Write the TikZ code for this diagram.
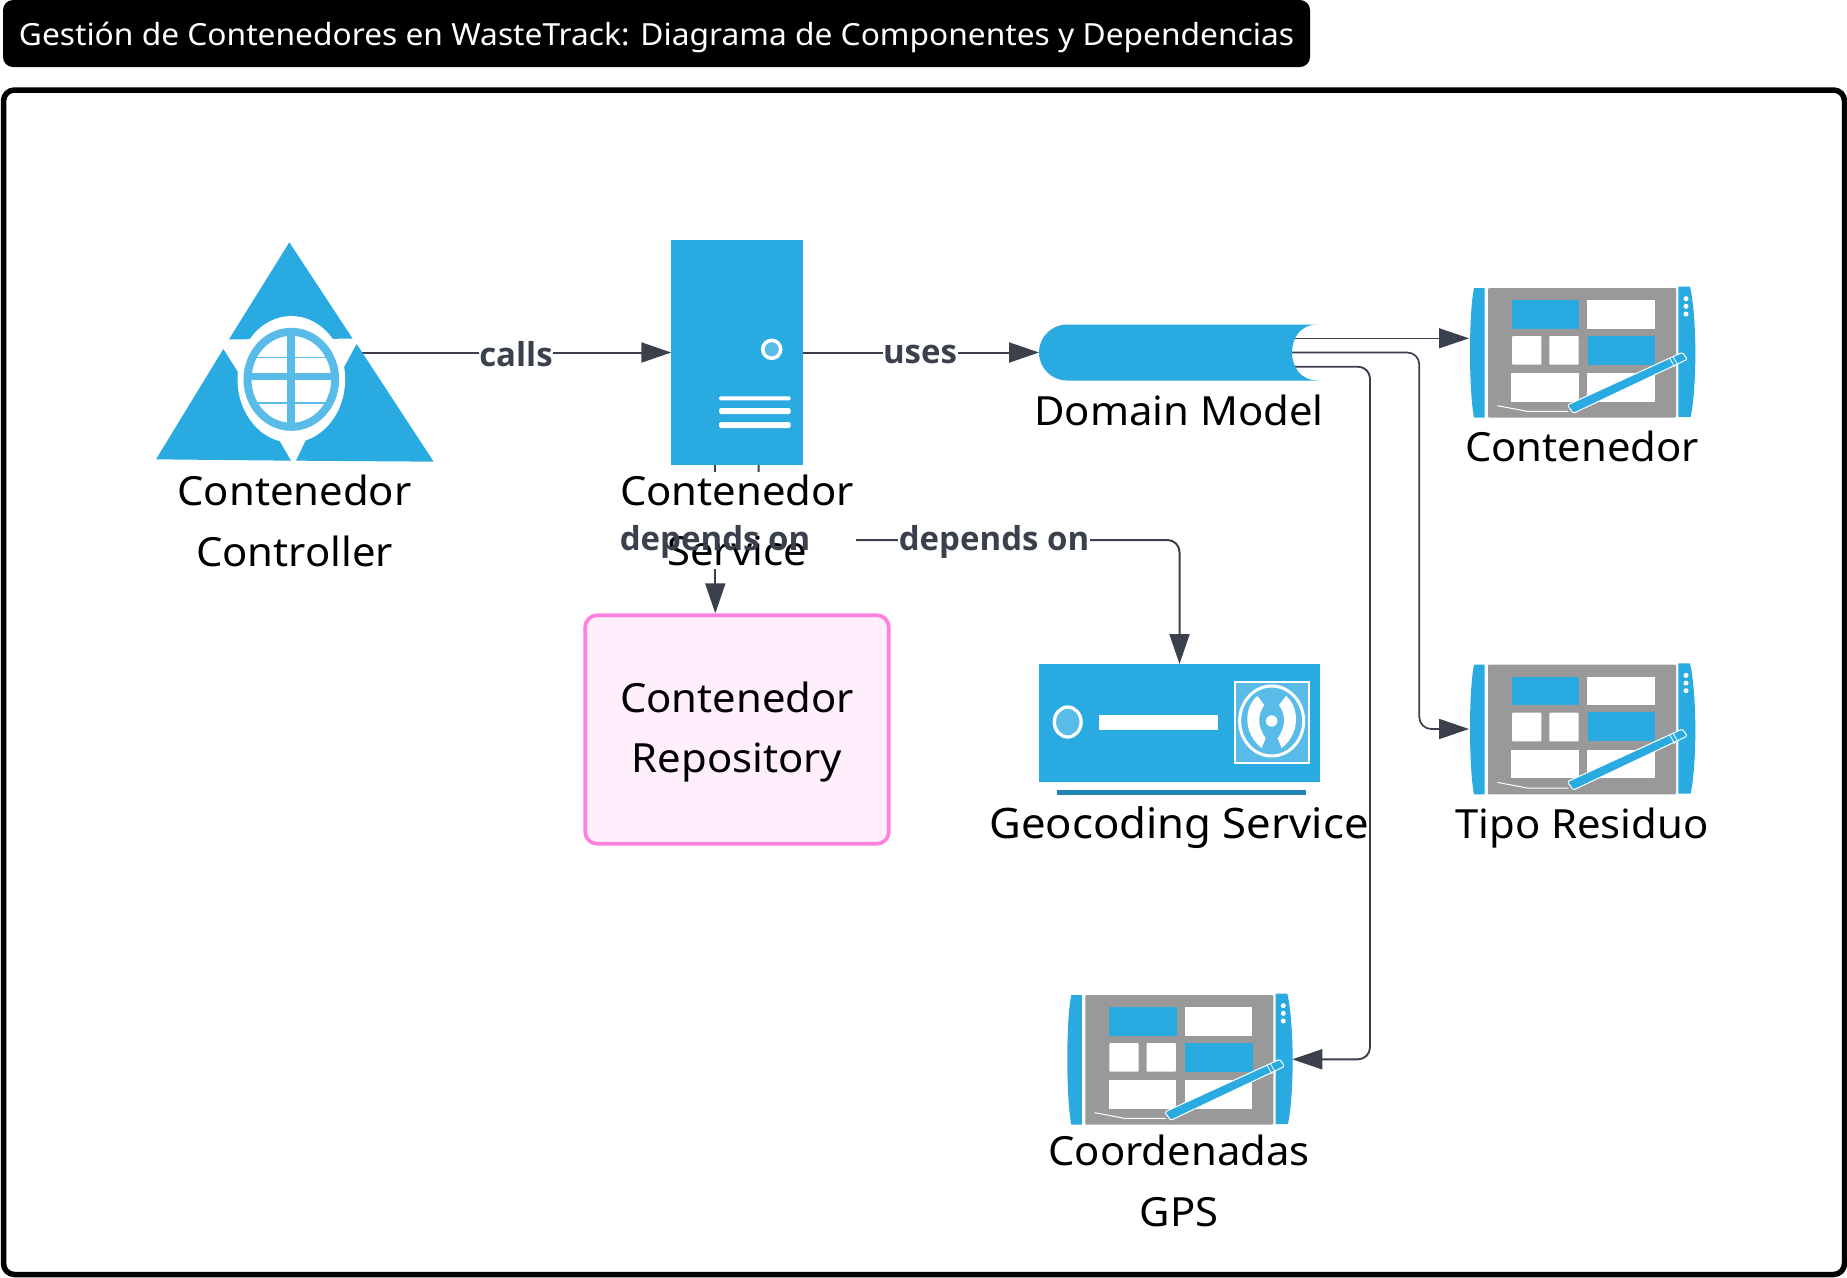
\documentclass[tikz,border=0pt]{standalone}
\usepackage{fontspec}
\usetikzlibrary{arrows.meta}
\setmainfont{Noto Sans}[FakeStretch=1.04]
\newfontfamily\efont{Open Sans}
\definecolor{mainb}{HTML}{29ABE2}
\definecolor{lightb}{HTML}{59BCE8}
\definecolor{darkb}{HTML}{2186B4}
\definecolor{edgec}{HTML}{3A414D}
\definecolor{greyc}{HTML}{999999}
\definecolor{repof}{HTML}{FFEEFB}
\definecolor{repos}{HTML}{FF80E0}
\tikzset{
  lbl/.style={font=\fontsize{40.2}{60.5}\selectfont,align=center,text=black,inner sep=0pt},
  elbl/.style={font=\fontsize{33}{38}\efont\bfseries,text=edgec,inner sep=0.5pt},
  conn/.style={draw=edgec,line width=#1,rounded corners=12pt,-{Triangle[length=30pt,width=20pt]}},
  conn/.default=2pt,
  iconbox/.style={inner sep=0pt,outer sep=0pt,draw=none},
  tablet/.pic={
    \begin{scope}[x=0.33333pt,y=-0.33333pt]
      \fill[mainb] (104,54) -- (72,54) .. controls (56,130) and (56,360) .. (72,443) -- (104,443) -- cycle;
      \fill[mainb] (685,50) -- (720,50) .. controls (741,140) and (741,350) .. (722,441) -- (685,441) -- cycle;
      \fill[white] (708,86) circle (2.5pt) (708,109) circle (2.5pt) (708,132) circle (2.5pt);
      \fill[greyc,rounded corners=1pt] (114,54) rectangle (678,443);
      \fill[mainb] (186,90) rectangle (388,176);
      \fill[white] (412,90) rectangle (615,176);
      \fill[white,rounded corners=1pt] (186,198) rectangle (274,284);
      \fill[white,rounded corners=1pt] (298,198) rectangle (386,284);
      \fill[mainb] (414,197) rectangle (616,284);
      \fill[white] (184,309) rectangle (387,395);
      \fill[white] (412,309) rectangle (615,395);
      \draw[white,line width=1pt] (142,407) -- (232,424) -- (355,424);
      \draw[white,fill=mainb,line width=1pt,rounded corners=1.5pt] (352,405) -- (697,247) -- (712,268) -- (370,430) -- cycle;
      \draw[white,line width=0.8pt] (660,266) -- (674,291) (670,261) -- (684,286);
    \end{scope}
  }
}
\begin{document}
\begin{tikzpicture}[x=1pt,y=-1pt]
\useasboundingbox (0,0) rectangle (1847,1277);
\fill[white] (0,0) rectangle (1847,1277);
% title and frame
\node[fill=black,rounded corners=10pt,inner sep=0pt,minimum width=1307pt,minimum height=67pt,text=white,font=\fontsize{30.5}{36}\selectfont] (title) at (656.5,33.5) {\raisebox{-11.5pt}[20pt][20pt]{Gestión de Contenedores en WasteTrack: Diagrama de Componentes y Dependencias}};
\draw[black,line width=5.5pt,rounded corners=11pt] (3.5,90) rectangle (1844.5,1274.5);
% named icon frames
\coordinate (ctrlout) at (354,352.5);
\node[iconbox,minimum width=131.4pt,minimum height=225pt] (server) at (737,352.5) {};
\node[iconbox,minimum width=279pt,minimum height=56pt] (dm) at (1178.5,352.5) {};
\node[iconbox,draw=repos,fill=repof,line width=3.7pt,rounded corners=12pt,minimum width=303.6pt,minimum height=228.6pt,outer sep=1.85pt] (repo) at (737,729.5) {};
\node[iconbox,minimum width=281pt,minimum height=118pt] (geo) at (1179.5,723) {};
\coordinate (srvA) at (715.3,465);
\coordinate (srvB) at (758.7,465);
\coordinate (dmA) at (1292,338.3);
\coordinate (dmB) at (1292,352.5);
\coordinate (dmC) at (1292,366.7);
\coordinate (tabA) at (1469,338.3);
\coordinate (tabB) at (1469,729);
\coordinate (tabC) at (1292.3,1059.3);
% connectors
\draw[conn] (ctrlout) -- (server.west);
\draw[conn] (server.east) -- (dm.west);
\draw[conn=2pt] (srvA) -- (srvA |- repo.north);
\draw[conn=2pt] (srvB) |- (1179.5,540) -- (geo.north);
\draw[conn=1.2pt] (dmA) -- (tabA);
\draw[conn=1.7pt] (dmB) -| (1419.3,729) -- (tabB);
\draw[conn=1.9pt] (dmC) -| (1370,1059.3) -- (tabC);
% connector labels
\node[elbl,fill=white] (lcalls) at (516,354) {calls};
\node[elbl,fill=white] (luses) at (920,354) {uses};
\node[elbl,fill=white] (ldep2) at (994,542) {depends on};
% service label hides the connectors behind it
\node[lbl,fill=white,minimum width=238pt,minimum height=97.5pt] (srvlabel) at (737,520.5) {Contenedor\\Service};
\node[elbl] (ldep1) at (715,542) {depends on};
% controller icon
\begin{scope}[shift={(130,220)},x=0.33333pt,y=-0.33333pt]
  \fill[mainb] (478,67) -- (668,356) -- (297,358) -- cycle;
  \fill[mainb] (280,387) -- (323,455) -- (400,600) -- (450,665) -- (483,722) -- (78,718) -- cycle;
  \fill[mainb] (680,372) -- (643,440) -- (570,600) -- (528,660) -- (498,722) -- (911,725) -- cycle;
  \fill[white] (484,478) ellipse [x radius=53.8pt,y radius=63.3pt];
  \fill[white] (360,358) rectangle (605,400);
  \draw[lightb,line width=8pt] (484,478) ellipse [x radius=43.8pt,y radius=47.5pt];
  \draw[lightb,line width=8pt] (484,335) -- (484,620);
  \draw[lightb,line width=6.5pt] (350,470) -- (618,470);
  \draw[lightb,line width=1.3pt] (380,412) -- (590,412) (380,549) -- (590,549);
\end{scope}
\node[iconbox,minimum width=278pt,minimum height=220pt] (ctrl) at (295,352) {};
\node[lbl] (ctrllabel) at (294.5,521) {Contenedor\\Controller};
% server icon
\fill[mainb] (server.north west) rectangle (server.south east);
\draw[white,fill=lightb,line width=3.5pt] (771.7,349.3) circle (9pt);
\fill[white,rounded corners=1.5pt] (719,396.3) rectangle (790.7,400.3);
\fill[white,rounded corners=1.5pt] (719,408) rectangle (790.7,414);
\fill[white,rounded corners=1.5pt] (719,422) rectangle (790.7,428);
% domain model icon
\fill[mainb] (1067,324.5) -- (1318,324.5) .. controls (1300,324.5) and (1292,338) .. (1292,352.5) .. controls (1292,366) and (1300,380.5) .. (1318,380.5) -- (1067,380.5) arc [start angle=270,end angle=90,radius=28pt] -- cycle;
\node[lbl] (dmlabel) at (1179,410) {Domain Model};
% repository text
\node[lbl] (repolabel) at (737,732) {Contenedor\\Repository};
% geocoding icon
\fill[mainb] (geo.north west) rectangle (geo.south east);
\fill[darkb] (1057.3,789.7) rectangle (1306,795);
\draw[white,fill=lightb,line width=3.3pt] (1067.7,722) ellipse [x radius=13.4pt,y radius=15pt];
\fill[white] (1099.3,715) rectangle (1218,730.3);
\draw[white,fill=lightb,line width=2pt] (1235.3,681.7) rectangle (1309,763.3);
\begin{scope}[shift={(1020,650)},x=0.33333pt,y=-0.33333pt]
  \draw[white,line width=3pt] (755,213) ellipse [x radius=32pt,y radius=35pt];
  \fill[white] (712,138) .. controls (672,170) and (668,250) .. (725,294) -- (737,265) .. controls (712,230) and (712,195) .. (733,165) -- cycle;
  \fill[white] (798,138) .. controls (838,170) and (842,250) .. (785,294) -- (773,265) .. controls (798,230) and (798,195) .. (777,165) -- cycle;
  \fill[white] (755,213) circle (5.7pt);
\end{scope}
\node[lbl,font=\fontsize{42}{60.5}\selectfont] (geolabel) at (1179,827.5) {Geocoding Service};
% tablets
\pic (t1) at (1450,270) {tablet};
\pic (t2) at (1450,646.7) {tablet};
\pic (t3) at (1047.3,977) {tablet};
\node[lbl] (t1label) at (1582,446) {Contenedor};
\node[lbl] (t2label) at (1582,828) {Tipo Residuo};
\node[lbl] (t3label) at (1179,1181) {Coordenadas\\GPS};
\end{tikzpicture}
\end{document}
